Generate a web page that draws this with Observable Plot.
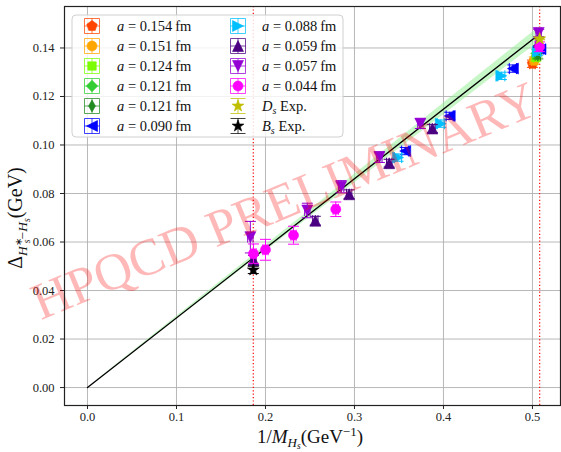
<!DOCTYPE html>
<html><head><meta charset="utf-8">
<script src="https://cdn.jsdelivr.net/npm/d3@7"></script>
<script src="https://cdn.jsdelivr.net/npm/@observablehq/plot@0.6"></script>
<style>
body{margin:0;background:#fff;}
#chart{position:relative;width:561px;height:452px;}
#chart svg text{font-family:"Liberation Serif", serif;}
</style></head><body><div id="chart"></div>
<script>
// ---------- data ----------
const xTicks = [0, 0.1, 0.2, 0.3, 0.4, 0.5];
const yTicks = [0, 0.02, 0.04, 0.06, 0.08, 0.10, 0.12, 0.14];

// lattice results: 1/M_Hs, splitting, errors
const a154X = [0.500],  a154Y = [0.1335], a154Ex = [0.003], a154Ey = [0.0015];
const a151X = [0.502],  a151Y = [0.1348], a151Ex = [0.003], a151Ey = [0.0015];
const a124X = [0.504],  a124Y = [0.1362], a124Ex = [0.003], a124Ey = [0.0015];
const a121X = [0.505],  a121Y = [0.1378], a121Ex = [0.003], a121Ey = [0.0015];
const a121bX = [0.506], a121bY = [0.1370], a121bEx = [0.003], a121bEy = [0.0015];
const a090X = [0.357, 0.407, 0.478, 0.509];
const a090Y = [0.0975, 0.1120, 0.1315, 0.1395];
const a090Ex = [0.004, 0.004, 0.004, 0.003];
const a090Ey = [0.0015, 0.0015, 0.0015, 0.0015];
const a088X = [0.349, 0.397, 0.465, 0.506];
const a088Y = [0.0948, 0.1088, 0.1285, 0.1385];
const a088Ex = [0.004, 0.004, 0.004, 0.003];
const a088Ey = [0.0015, 0.0015, 0.0015, 0.0015];
const a059X = [0.1865, 0.256, 0.294, 0.339, 0.3875, 0.507];
const a059Y = [0.0525, 0.0688, 0.0797, 0.0925, 0.1068, 0.1425];
const a059Ex = [0.003, 0.003, 0.003, 0.003, 0.003, 0.003];
const a059Ey = [0.002, 0.0018, 0.0018, 0.0016, 0.0016, 0.0015];
const a057X = [0.183, 0.247, 0.285, 0.328, 0.374, 0.507];
const a057Y = [0.0620, 0.0730, 0.0828, 0.0950, 0.1088, 0.1462];
const a057Ex = [0.003, 0.003, 0.003, 0.003, 0.003, 0.003];
const a057Ey = [0.0065, 0.003, 0.0025, 0.0022, 0.002, 0.0015];
const a044X = [0.1865, 0.200, 0.2315, 0.279, 0.508];
const a044Y = [0.0552, 0.0568, 0.0628, 0.0735, 0.1405];
const a044Ex = [0.003, 0.003, 0.003, 0.003, 0.003];
const a044Ey = [0.004, 0.0043, 0.0037, 0.003, 0.002];

// experiment
const expLabels = ["D_s Exp.", "B_s Exp."];
const expX = [0.5081, 0.1863];
const expY = [0.1438, 0.0485];
const expEy = [0.0004, 0.0015];

// fit line and its band
const fitX = [0, 0.508];
const fitY = [0, 0.1458];
const bandLo = [0, 0.1428];
const bandHi = [0, 0.1488];

const seriesLabels = ["0.154", "0.151", "0.124", "0.121", "0.121", "0.090", "0.088", "0.059", "0.057", "0.044"];
const watermark = "HPQCD PRELIMINARY";
const watermarkAt = [0.2215, 0.0768];

// ---------- styles ----------
const seriesColors = ["#ff4500", "#ffa500", "#7cfc00", "#32cd32", "#228b22", "#0000ff", "#00bfff", "#4b0082", "#9400d3", "#ff00ff"];
const expColors = ["#bfbf00", "#000000"];

function mk(fn) { return {draw(ctx, size) { fn(ctx, Math.sqrt(size / Math.PI)); }}; }
const poly = pts => (ctx, r) => { pts.forEach(([a, b], i) => i ? ctx.lineTo(a * r, b * r) : ctx.moveTo(a * r, b * r)); ctx.closePath(); };
const ngon = (n, rad, rot) => d3.range(n).map(k => { const t = (rot + 360 * k / n) * Math.PI / 180; return [rad * Math.cos(t), rad * Math.sin(t)]; });
const starPts = d3.range(10).map(k => { const t = (-90 + 36 * k) * Math.PI / 180; const rr = k % 2 ? 0.5 : 1.25; return [rr * Math.cos(t), rr * Math.sin(t)]; });
const symCircle = mk((ctx, r) => { ctx.moveTo(r, 0); ctx.arc(0, 0, r, 0, 2 * Math.PI); });
const symbols = [
  mk(poly(ngon(5, 1.1, -90))),
  symCircle,
  mk(poly([[-.85, -.85], [.85, -.85], [.85, .85], [-.85, .85]])),
  mk(poly([[0, -1.15], [1.15, 0], [0, 1.15], [-1.15, 0]])),
  mk(poly([[0, -1.2], [.7, 0], [0, 1.2], [-.7, 0]])),
  mk(poly([[-1.1, 0], [1.1, -1.1], [1.1, 1.1]])),
  mk(poly([[1.1, 0], [-1.1, -1.1], [-1.1, 1.1]])),
  mk(poly([[0, -1.1], [-1.1, 1.1], [1.1, 1.1]])),
  mk(poly([[0, 1.1], [-1.1, -1.1], [1.1, -1.1]])),
  symCircle
];
const symStar = mk(poly(starPts));
const CAP = 5.5;
const hCap = {draw(ctx) { ctx.moveTo(-CAP, 0); ctx.lineTo(CAP, 0); }};
const vCap = {draw(ctx) { ctx.moveTo(0, -CAP); ctx.lineTo(0, CAP); }};

const seriesData = [
  [a154X, a154Y, a154Ex, a154Ey], [a151X, a151Y, a151Ex, a151Ey], [a124X, a124Y, a124Ex, a124Ey],
  [a121X, a121Y, a121Ex, a121Ey], [a121bX, a121bY, a121bEx, a121bEy], [a090X, a090Y, a090Ex, a090Ey],
  [a088X, a088Y, a088Ex, a088Ey], [a059X, a059Y, a059Ex, a059Ey], [a057X, a057Y, a057Ex, a057Ey],
  [a044X, a044Y, a044Ex, a044Ey]
].map(([X, Y, EX, EY]) => X.map((x, i) => ({x, y: Y[i], ex: EX[i], ey: EY[i]})));
const expData = expX.map((x, i) => ({x, y: expY[i], ex: 0, ey: expEy[i]}));
const band = fitX.map((x, i) => ({x, lo: bandLo[i], hi: bandHi[i]}));
const fit = fitX.map((x, i) => ({x, y: fitY[i]}));

function errMarks(rows, col, sym, withX) {
  const m = [];
  if (withX) {
    m.push(Plot.ruleY(rows, {y: "y", x1: d => d.x - d.ex, x2: d => d.x + d.ex, stroke: col, strokeWidth: 1}));
    m.push(Plot.dot(rows, {x: d => d.x - d.ex, y: "y", symbol: vCap, stroke: col, fill: "none", r: 5, strokeWidth: 1}));
    m.push(Plot.dot(rows, {x: d => d.x + d.ex, y: "y", symbol: vCap, stroke: col, fill: "none", r: 5, strokeWidth: 1}));
  }
  m.push(Plot.ruleX(rows, {x: "x", y1: d => d.y - d.ey, y2: d => d.y + d.ey, stroke: col, strokeWidth: 1}));
  m.push(Plot.dot(rows, {x: "x", y: d => d.y - d.ey, symbol: hCap, stroke: col, fill: "none", r: 5, strokeWidth: 1}));
  m.push(Plot.dot(rows, {x: "x", y: d => d.y + d.ey, symbol: hCap, stroke: col, fill: "none", r: 5, strokeWidth: 1}));
  m.push(Plot.dot(rows, {x: "x", y: "y", symbol: sym, fill: col, stroke: col, strokeWidth: 0.6, r: 5}));
  return m;
}

const marks = [
  Plot.ruleX(xTicks, {stroke: "#b0b0b0", strokeWidth: 0.9}),
  Plot.ruleY(yTicks, {stroke: "#b0b0b0", strokeWidth: 0.9}),
  Plot.ruleX(expX, {stroke: "#ff0000", strokeWidth: 1.2, strokeDasharray: "1.2,2.2"}),
  Plot.areaY(band, {x: "x", y1: "lo", y2: "hi", fill: "#90ee90", fillOpacity: 0.5}),
  Plot.line(fit, {x: "x", y: "y", stroke: "#000", strokeWidth: 1.3})
];
seriesData.forEach((rows, i) => marks.push(...errMarks(rows, seriesColors[i], symbols[i], true)));
expData.forEach((d, i) => marks.push(...errMarks([d], expColors[i], symStar, false)));
marks.push(Plot.text([watermark], {x: () => watermarkAt[0], y: () => watermarkAt[1], text: d => d, rotate: -22.5,
  fontSize: 52, fontFamily: "Liberation Serif", fill: "red", fillOpacity: 0.28}));
marks.push(Plot.frame({stroke: "#222", strokeWidth: 1.2}));

const svg = Plot.plot({
  width: 561, height: 452,
  marginLeft: 64, marginRight: 1, marginTop: 6, marginBottom: 47,
  style: {fontFamily: "Liberation Serif", fontSize: "12.5px", background: "white", color: "#222"},
  x: {type: "linear", domain: [-0.02584, 0.5315], ticks: xTicks, tickFormat: d3.format(".1f"), tickSize: 4, tickPadding: 3, label: null},
  y: {type: "linear", domain: [-0.0074, 0.1571], ticks: yTicks, tickFormat: d3.format(".2f"), tickSize: 4, tickPadding: 6, label: null},
  marks
});
document.getElementById("chart").append(svg);

// ---------- axis labels and legend ----------
const s = d3.select(svg);
const ff = "Liberation Serif";
// x label
const xl = s.append("text").attr("x", 310).attr("y", 443).attr("text-anchor", "middle")
  .attr("font-family", ff).attr("font-size", 19).attr("fill", "#111");
xl.append("tspan").text("1/");
xl.append("tspan").attr("font-style", "italic").text("M");
xl.append("tspan").attr("font-style", "italic").attr("font-size", 13).attr("dy", 3.5).text("H");
xl.append("tspan").attr("font-style", "italic").attr("font-size", 9.5).attr("dy", 2).text("s");
xl.append("tspan").attr("dy", -5.5).text("(GeV");
xl.append("tspan").attr("font-size", 13).attr("dy", -7).text("−1");
xl.append("tspan").attr("dy", 7).text(")");
// y label
const yl = s.append("text").attr("transform", "translate(22,218) rotate(-90)").attr("text-anchor", "middle")
  .attr("font-family", ff).attr("font-size", 20).attr("fill", "#111");
yl.append("tspan").text("Δ");
yl.append("tspan").attr("font-style", "italic").attr("font-size", 13.5).attr("dy", 5).text("H");
yl.append("tspan").attr("font-size", 9.5).attr("dy", -5).text("∗");
yl.append("tspan").attr("font-style", "italic").attr("font-size", 9.5).attr("dx", -5).attr("dy", 8).text("s");
yl.append("tspan").attr("font-size", 13.5).attr("dy", -3).text("−");
yl.append("tspan").attr("font-style", "italic").attr("font-size", 13.5).text("H");
yl.append("tspan").attr("font-style", "italic").attr("font-size", 9.5).attr("dy", 3).text("s");
yl.append("tspan").attr("dy", -8).text("(GeV)");

// legend
const lg = s.append("g").attr("text-anchor", "start");
lg.append("rect").attr("x", 72).attr("y", 15).attr("width", 271).attr("height", 122).attr("rx", 4)
  .attr("fill", "white").attr("fill-opacity", 0.82).attr("stroke", "#d0d0d0").attr("stroke-width", 1);
const rowY = i => 26 + i * 20;
function legendMarker(cx, cy, col, sym, withX) {
  const g = lg.append("g").attr("transform", `translate(${cx},${cy})`).attr("stroke", col).attr("stroke-width", 1).attr("stroke-opacity", 0.75).attr("fill", "none");
  const e = 7.5;
  g.append("line").attr("x1", 0).attr("x2", 0).attr("y1", -e).attr("y2", e);
  g.append("line").attr("x1", -e).attr("x2", e).attr("y1", -e).attr("y2", -e);
  g.append("line").attr("x1", -e).attr("x2", e).attr("y1", e).attr("y2", e);
  if (withX) {
    g.append("line").attr("y1", 0).attr("y2", 0).attr("x1", -e).attr("x2", e);
    g.append("line").attr("y1", -e).attr("y2", e).attr("x1", -e).attr("x2", -e);
    g.append("line").attr("y1", -e).attr("y2", e).attr("x1", e).attr("x2", e);
  }
  lg.append("path").attr("transform", `translate(${cx},${cy})`).attr("d", d3.symbol(sym, 25 * Math.PI)())
    .attr("fill", col).attr("stroke", col).attr("stroke-width", 0.6);
}
seriesLabels.forEach((lab, i) => {
  const col = i < 6 ? 0 : 1, row = i < 6 ? i : i - 6;
  const cx = col ? 238 : 92, tx = col ? 262 : 117, cy = rowY(row);
  legendMarker(cx, cy, seriesColors[i], symbols[i], true);
  const t = lg.append("text").attr("x", tx).attr("y", cy + 5).attr("text-anchor", "start").attr("font-family", ff).attr("font-size", 14.5).attr("fill", "#111");
  t.append("tspan").attr("font-style", "italic").text("a");
  t.append("tspan").text(` = ${lab}\u2009fm`);
});
expLabels.forEach((lab, i) => {
  const cy = rowY(4 + i);
  legendMarker(238, cy, expColors[i], symStar, false);
  const [main, rest] = lab.split("_");
  const t = lg.append("text").attr("x", 262).attr("y", cy + 5).attr("text-anchor", "start").attr("font-family", ff).attr("font-size", 14.5).attr("fill", "#111");
  t.append("tspan").attr("font-style", "italic").text(main);
  t.append("tspan").attr("font-style", "italic").attr("font-size", 10).attr("dy", 3).text(rest[0]);
  t.append("tspan").attr("dy", -3).text(rest.slice(1));
});
</script></body></html>
